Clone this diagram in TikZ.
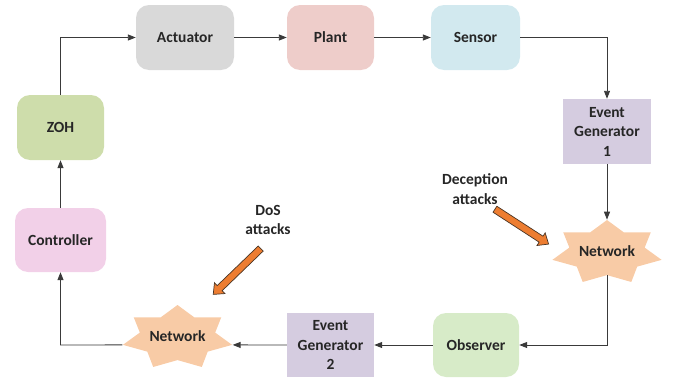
\documentclass[tikz,border=0pt]{standalone}
\usepackage{fontspec}
\setmainfont{Carlito}
\usetikzlibrary{arrows.meta,shapes.geometric,shapes.arrows}
\definecolor{txt}{HTML}{262626}
\definecolor{ln}{HTML}{3A3A3A}
\definecolor{cAct}{HTML}{D9D9D9}
\definecolor{cPlant}{HTML}{EECDCA}
\definecolor{cSens}{HTML}{D2E9EF}
\definecolor{cEG}{HTML}{D5CCE0}
\definecolor{cZOH}{HTML}{CEDDAB}
\definecolor{cCtrl}{HTML}{F2D0E8}
\definecolor{cObs}{HTML}{D7EBC8}
\definecolor{cNet}{HTML}{F8CBA6}
\definecolor{cOr}{HTML}{ED7D31}
\definecolor{cOrD}{HTML}{4A3525}
\tikzset{
  txtfont/.style={font=\fontsize{15.5}{19.5}\selectfont\bfseries, text=txt, align=center},
  rbox/.style={txtfont, rounded corners=13pt, inner sep=0pt},
  sbox/.style={txtfont, inner sep=0pt},
  netstar/.style={star, star points=7, star point ratio=1.45, minimum size=65.2pt, inner sep=0pt, fill=cNet, xscale=1.718, transform shape},
  conn/.style={draw=ln, line width=0.9pt, -{Triangle[length=8pt,width=6pt]}},
  attack/.style={single arrow, draw=cOrD, line width=0.7pt, fill=cOr, inner xsep=0pt, inner ysep=3.2pt, single arrow head extend=4pt, single arrow tip angle=80},
}
\begin{document}
\begin{tikzpicture}[x=1pt,y=-1pt]
\useasboundingbox (0,0) rectangle (678,383);
\node[rbox, fill=cAct, minimum width=98pt, minimum height=65pt] (act) at (185,37.5) {Actuator};
\node[rbox, fill=cPlant, minimum width=87pt, minimum height=65pt] (plant) at (330.5,37.5) {Plant};
\node[rbox, fill=cSens, minimum width=89pt, minimum height=65pt] (sens) at (475.5,37.5) {Sensor};
\node[sbox, fill=cEG, minimum width=88pt, minimum height=65pt] (eg1) at (607,131.5) {Event\\Generator\\1};
\node[netstar] (netR) at (607,252.6) {};
\node[txtfont] (netRt) at (607,251) {Network};
\node[rbox, fill=cObs, minimum width=86pt, minimum height=64pt] (obs) at (476,345) {Observer};
\node[sbox, fill=cEG, minimum width=87pt, minimum height=64pt] (eg2) at (330.5,345) {Event\\Generator\\2};
\node[netstar] (netL) at (177.5,337.6) {};
\node[txtfont] (netLt) at (177.5,336) {Network};
\node[rbox, fill=cCtrl, minimum width=91pt, minimum height=64pt] (ctrl) at (60.5,240) {Controller};
\node[rbox, fill=cZOH, minimum width=87pt, minimum height=65pt] (zoh) at (60.5,127.5) {ZOH};

\node[txtfont] (dec) at (475,189) {Deception\\attacks};
\node[txtfont] (dos) at (268,220) {DoS\\attacks};
\node[attack, minimum height=64pt, rotate=-33] (decA) at (520,225.5) {};
\node[attack, minimum height=66pt, rotate=-136] (dosA) at (238.5,270) {};

\coordinate (c1) at (60.5,37.5);
\coordinate (c2) at (607,37.5);
\coordinate (c3) at (607,345);
\coordinate (c4) at (60.5,345);
\draw[conn] (zoh.north) -- (c1) -- (act.west);
\draw[conn] (act.east) -- (plant.west);
\draw[conn] (plant.east) -- (sens.west);
\draw[conn] (sens.east) -- (c2) -- (eg1.north);
\draw[conn] (eg1.south) -- (netR.outer point 1);
\draw[conn] (netR.south) -- (c3) -- (obs.east);
\draw[conn] (obs.west) -- (eg2.east);
\draw[conn] (eg2.west) -- (netL.outer point 6);
\draw[conn] (netL.outer point 3) -- (c4) -- (ctrl.south);
\draw[conn] (ctrl.north) -- (zoh.south);
\end{tikzpicture}
\end{document}
